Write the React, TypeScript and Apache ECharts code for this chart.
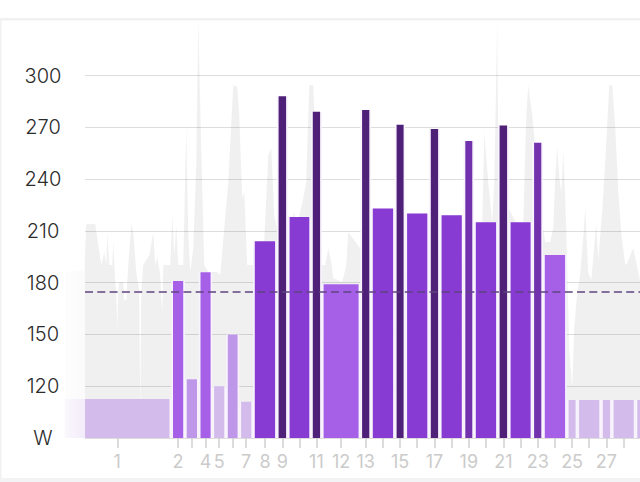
import React, { useEffect, useRef } from "react";
import * as echarts from "echarts";

// interval lengths, in order
const durations = [
  108, 13.7, 13.8, 13.6, 13.7, 13.3, 13.7, 23.8, 11, 23.2, 10.8, 38.5, 10.7, 23.8, 10.5,
  23.7, 10.8, 23.7, 10.5, 23.8, 11, 23.5, 10.7, 23.8, 10.5, 23.7, 10.8, 23.7, 10.5,
];
const averageWatts = [
  112.6, 181, 124, 186, 120, 150, 111, 204, 288, 218, 279, 179, 280, 223, 271.5,
  220, 269, 219, 262, 215, 271, 215, 261, 196, 112, 112, 112, 112, 112,
];
// index into zoneColors
const zones = [0, 2, 1, 2, 0, 1, 0, 3, 5, 3, 5, 2, 5, 3, 5, 3, 5, 3, 4, 3, 5, 3, 4, 2, 0, 0, 0, 0, 0];
const zoneColors = ["#d3bbeb", "#bf97e8", "#a660e8", "#873bd2", "#7232ad", "#4f2077"];
const labelledIntervals = [1, 2, 4, 5, 7, 8, 9, 11, 12, 13, 15, 17, 19, 21, 23, 25, 27];

// raw power trace behind the bars
const traceElapsed = [
  2, 21, 23, 32, 38, 41, 43, 44, 46, 49, 50, 52, 53, 54, 55, 56, 60, 61, 63, 65, 68, 70, 73,
  76, 77, 78, 80, 86, 90, 92, 94, 97, 99, 100, 107, 109, 111, 113, 115, 120, 123, 125, 127,
  130, 133, 135, 138, 141, 145, 154, 157, 161, 165, 170, 174, 176, 179, 181, 184, 192, 201,
  205, 208, 211, 215, 227, 231, 234, 240, 243, 246, 250, 253, 257, 262, 265, 268, 270, 279,
  283, 285, 309, 332, 342, 367, 399, 409, 415, 419, 421, 425, 429, 431, 434, 435, 442, 457,
  460, 463, 465, 469, 479, 482, 487, 490, 492, 494, 496, 498, 500, 502, 503, 506, 509, 511,
  514, 517, 520, 522, 525, 528, 530, 533, 535, 539, 542, 546, 549, 552, 555, 558, 562, 564,
  569, 570, 582,
];
const traceWatts = [
  186.2, 187.3, 214, 214, 190.2, 197.8, 190.2, 209.3, 190.2, 190.2, 204.7, 180.4, 175.7, 154.3,
  175.7, 180.4, 180.4, 169.9, 169.9, 190.2, 214, 209.3, 186.2, 175.7, 106.2, 175.7, 190.2, 196,
  209.3, 190.2, 194.9, 184.4, 162.4, 190.2, 190.2, 219.2, 196, 213.4, 190.2, 190.2, 271.3, 209.3,
  186.2, 200.1, 248.2, 332.2, 258, 190.2, 186.2, 186.2, 184.4, 211.7, 238.3, 294.5, 293.3, 277.1,
  229, 232.5, 190.2, 190.2, 204.7, 253.9, 258, 219.2, 207.6, 213.4, 220.9, 213.4, 229, 238.3,
  294.5, 294.5, 245.3, 190.2, 190.2, 200.1, 192, 182.7, 180.4, 190.2, 209.3, 190.2, 190.2, 187.3,
  193.1, 192, 192, 203.5, 215.1, 267.3, 238.3, 215.1, 238.3, 332.2, 258, 226.7, 210.5, 215.1,
  277.1, 294.5, 277.1, 215.1, 203.5, 203.5, 212.2, 241.2, 258.6, 241.2, 231.9, 256.8, 227.9, 212.2,
  141, 119.5, 154.3, 174, 185.6, 206.4, 223.8, 185.6, 181.5, 194.9, 214.5, 193.1, 222.1, 251, 294.5,
  294.5, 270.2, 233.7, 208.8, 190.2, 191.4, 198.9, 200.1, 167, 167,
];
const targetWatts = 175;
const yTicks = { min: 90, max: 300, interval: 30 };

export default function App() {
  const chartRef = useRef<HTMLDivElement>(null);

  useEffect(() => {
    if (!chartRef.current) return;
    const chart = echarts.init(chartRef.current, null, { renderer: "svg" });

    let t = 0;
    const bars = durations.map((d, i) => {
      const row = [t, t + d, averageWatts[i], zones[i]];
      t += d;
      return row;
    });
    const centers = bars.map((b) => (b[0] + b[1]) / 2);
    const labelled = labelledIntervals.map((n) => centers[n - 1]);

    chart.setOption({
      animation: false,
      grid: { left: 85, right: 0, top: 75.5, bottom: 44 },
      xAxis: {
        type: "value",
        min: 21.75,
        max: 576.75,
        splitLine: { show: false },
        axisLine: { show: false },
        axisTick: {
          show: true,
          length: 10,
          customValues: centers,
          lineStyle: { color: "#d0d0d0", width: 1.5 },
        },
        axisLabel: {
          customValues: labelled,
          margin: 14,
          color: "#cbcbcb",
          fontFamily: "Inter",
          fontSize: 18,
          formatter: (v: number) => String(centers.findIndex((c) => Math.abs(c - v) < 0.01) + 1),
        },
      },
      yAxis: {
        type: "value",
        ...yTicks,
        axisLine: { show: false },
        axisTick: { show: false },
        splitLine: { lineStyle: { color: "#dddddd", width: 1 } },
        axisLabel: {
          align: "center",
          margin: 42,
          color: "#2b2b2b",
          fontFamily: "Inter",
          fontWeight: 300,
          fontSize: 20,
          formatter: (v: number) => (v === yTicks.min ? "W" : String(v)),
        },
      },
      series: [
        {
          // the trace runs past both ends of the grid, so it is one polygon and not a line series
          type: "custom",
          data: [[traceElapsed[0], traceWatts[0]]],
          clip: false,
          silent: true,
          z: 1,
          renderItem: (_: any, api: any) => {
            const top = traceElapsed.map((x, i) => api.coord([x, traceWatts[i]]));
            const end = api.coord([traceElapsed[traceElapsed.length - 1], yTicks.min]);
            const start = api.coord([traceElapsed[0], yTicks.min]);
            return {
              type: "polygon",
              shape: { points: [...top, end, start] },
              style: { fill: "rgba(0,0,0,0.06)" },
            };
          },
        },
        {
          type: "custom",
          data: bars,
          clip: false,
          z: 2,
          encode: { x: [0, 1], y: 2 },
          renderItem: (_: any, api: any) => {
            const a = api.coord([api.value(0), api.value(2)]);
            const b = api.coord([api.value(1), yTicks.min]);
            return {
              type: "group",
              children: [
                {
                  type: "rect",
                  shape: { x: a[0], y: a[1], width: b[0] - a[0], height: b[1] - a[1] },
                  style: { fill: "#f8f3fd" },
                },
                {
                  type: "rect",
                  shape: { x: a[0] + 1.75, y: a[1], width: b[0] - a[0] - 3.5, height: b[1] - a[1] },
                  style: { fill: zoneColors[api.value(3)] },
                },
              ],
            };
          },
        },
        {
          type: "line",
          data: [],
          z: 3,
          markLine: {
            silent: true,
            symbol: "none",
            label: { show: false },
            lineStyle: { color: "#5f4480", type: [8, 4.3], width: 1.5 },
            data: [{ yAxis: targetWatts }],
          },
        },
      ],
      graphic: [
        // faded strip left of the plot
        {
          type: "rect",
          z: 100,
          shape: { x: 63, y: 200, width: 22, height: 245 },
          style: {
            fill: new echarts.graphic.LinearGradient(0, 0, 1, 0, [
              { offset: 0, color: "rgba(255,255,255,0.9)" },
              { offset: 1, color: "rgba(255,255,255,0.72)" },
            ]),
          },
        },
        // card border
        { type: "rect", z: 100, shape: { x: 0, y: 18, width: 640, height: 2.5 }, style: { fill: "#f1f1f1" } },
        { type: "rect", z: 100, shape: { x: 0, y: 18, width: 1.5, height: 460 }, style: { fill: "#f1f1f1" } },
        { type: "rect", z: 100, shape: { x: 0, y: 478, width: 640, height: 4 }, style: { fill: "#f3f3f5" } },
      ],
    });

    return () => chart.dispose();
  }, []);

  return (
    <div
      ref={chartRef}
      style={{ position: "fixed", left: 0, top: 0, width: 640, height: 482, background: "#fff" }}
    />
  );
}
